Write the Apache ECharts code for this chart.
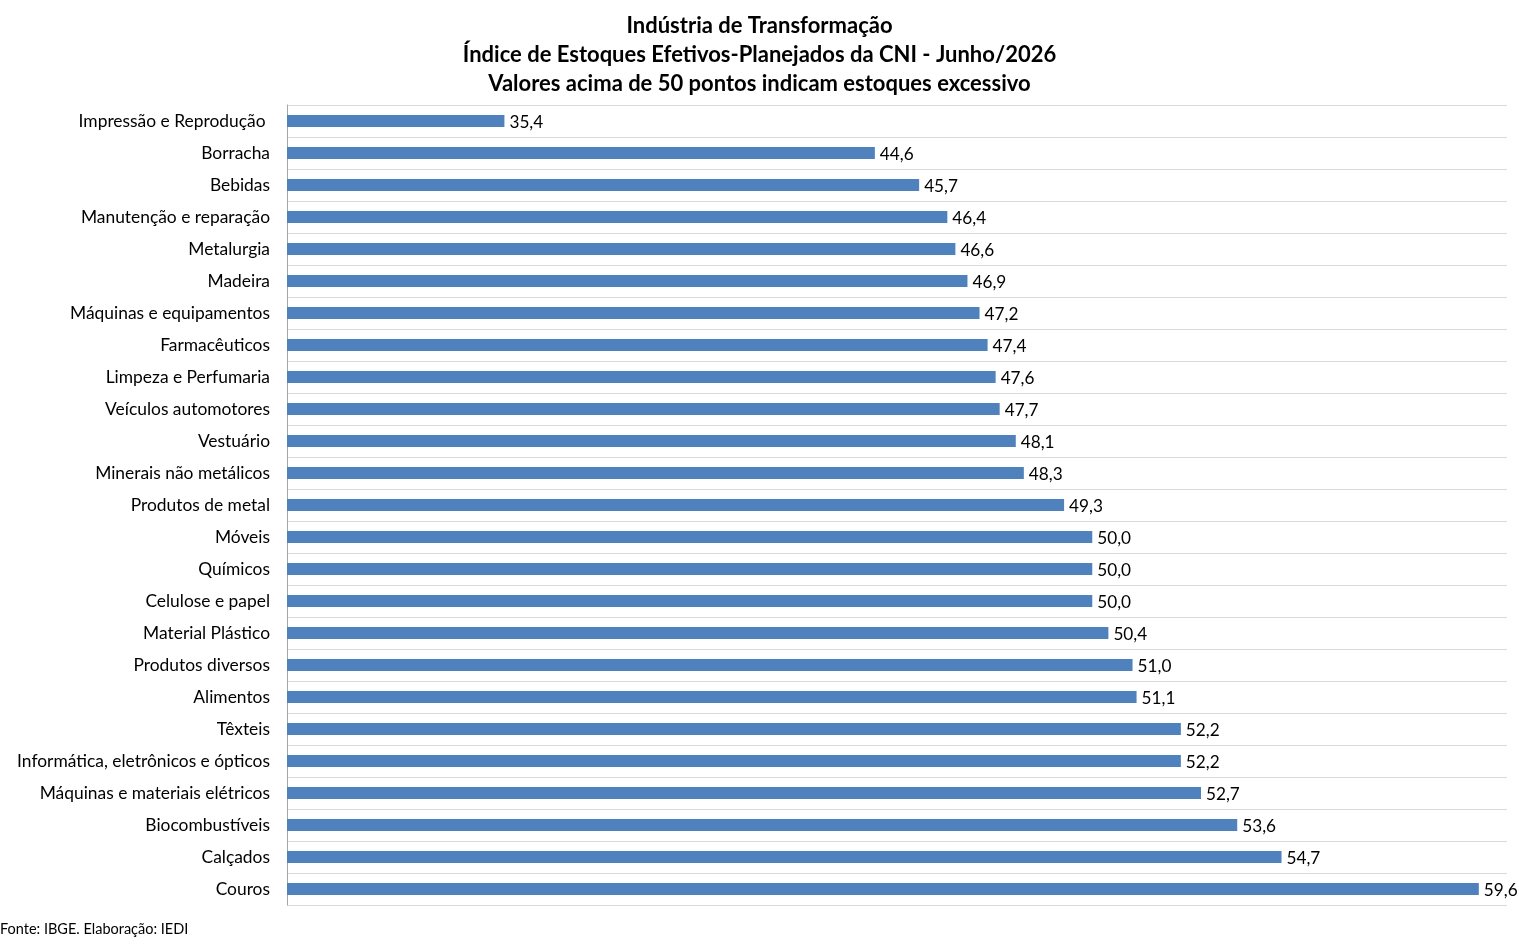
<!DOCTYPE html>
<html><head><meta charset="utf-8">
<script src="https://cdn.jsdelivr.net/npm/echarts@6/dist/echarts.min.js"></script>
<style>html,body{margin:0;padding:0;background:#fff}#c{width:1519px;height:947px}</style>
</head><body><div id="c"></div>
<script>
const categories = ["Impressão e Reprodução ","Borracha","Bebidas","Manutenção e reparação","Metalurgia","Madeira","Máquinas e equipamentos","Farmacêuticos","Limpeza e Perfumaria","Veículos automotores","Vestuário","Minerais não metálicos","Produtos de metal","Móveis","Químicos","Celulose e papel","Material Plástico","Produtos diversos","Alimentos","Têxteis","Informática, eletrônicos e ópticos","Máquinas e materiais elétricos","Biocombustíveis","Calçados","Couros"];
const values = [35.4,44.6,45.7,46.4,46.6,46.9,47.2,47.4,47.6,47.7,48.1,48.3,49.3,50.0,50.0,50.0,50.4,51.0,51.1,52.2,52.2,52.7,53.6,54.7,59.6];
const titleLines = ["Indústria de Transformação","Índice de Estoques Efetivos-Planejados da CNI - Junho/2026","Valores acima de 50 pontos indicam estoques excessivo"];
const footer = "Fonte: IBGE. Elaboração: IEDI";
const FONT = "Lato";
const chart = echarts.init(document.getElementById('c'));
chart.setOption({
  animation:false,
  title:[{text:titleLines.join('\n'),left:'center',top:11,padding:0,textStyle:{fontFamily:FONT,fontWeight:'bold',fontSize:22,lineHeight:29,color:'#000'}},
         {text:footer,left:0,top:922,padding:0,textStyle:{fontFamily:FONT,fontWeight:'normal',fontSize:14.5,color:'#000'}}],
  grid:{left:287,right:12,top:105,bottom:42,containLabel:false},
  xAxis:{type:'value',min:30,max:60.3,show:false,splitLine:{show:false}},
  yAxis:{type:'category',data:categories,inverse:true,
    axisLine:{show:true,lineStyle:{color:'#a6a6a6',width:1}},
    axisTick:{show:false},
    splitLine:{show:true,lineStyle:{color:'#d9d9d9',width:1}},
    axisLabel:{fontFamily:FONT,fontSize:17.4,color:'#000',margin:17}},
  series:[{type:'bar',data:values,barWidth:12,itemStyle:{color:'#4F81BD'},
    label:{show:true,position:'right',distance:5,fontFamily:FONT,fontSize:17.2,color:'#000',offset:[0,1],
      formatter:p=>p.value.toFixed(1).replace('.',',')}}]
});
</script></body></html>
